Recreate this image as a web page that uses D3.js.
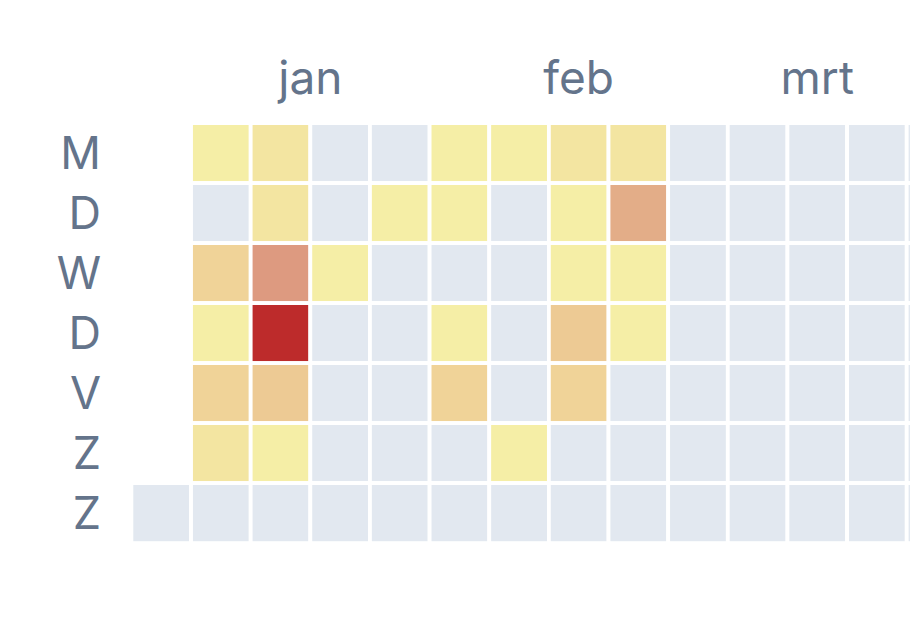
<!DOCTYPE html>
<html>
<head>
<meta charset="utf-8">
<script src="https://cdn.jsdelivr.net/npm/d3@7"></script>
<style>
  html, body { margin: 0; padding: 0; background: #ffffff; overflow: hidden; }
  svg { display: block; }
  text { font-family: Inter, "Noto Sans", sans-serif; fill: #64748b; }
</style>
</head>
<body>
<svg id="chart" width="910" height="632"></svg>
<script>
// ---- data ----
const startDate = "2023-01-01";
const endDate = "2023-04-02";
// daily counts from Jan 1 2023 (Sunday) onward
const dailyCounts = [
  0,                      // Jan 1 (Sun)
  1, 0, 4, 1, 4, 2, 0,    // Jan 2 - Jan 8
  2, 2, 10, 23, 5, 1, 0,  // Jan 9 - Jan 15
  0, 0, 1, 0, 0, 0, 0,    // Jan 16 - Jan 22
  0, 1, 0, 0, 0, 0, 0,    // Jan 23 - Jan 29
  1, 1, 0, 1, 4, 0, 0,    // Jan 30 - Feb 5
  1, 0, 0, 0, 0, 1, 0,    // Feb 6 - Feb 12
  2, 1, 1, 5, 4, 0, 0,    // Feb 13 - Feb 19
  2, 8, 1, 1, 0, 0, 0,    // Feb 20 - Feb 26
  0, 0, 0, 0, 0, 0, 0,    // Feb 27 - Mar 5
  0, 0, 0, 0, 0, 0, 0,    // Mar 6 - Mar 12
  0, 0, 0, 0, 0, 0, 0,    // Mar 13 - Mar 19
  0, 0, 0, 0, 0, 0, 0,    // Mar 20 - Mar 26
  0, 0, 0, 0, 0, 0, 0     // Mar 27 - Apr 2
];
const dayLabels = ["M", "D", "W", "D", "V", "Z", "Z"];
const monthLabels = ["jan", "feb", "mrt"];
const colorStops = [1, 4, 10, 23];
const colorRange = ["#f5eea6", "#f0d398", "#dd9a80", "#bd2b2b"];

// ---- layout ----
const svg = d3.select("#chart");
const parse = d3.utcParse("%Y-%m-%d");
const t0 = parse(startDate);
const days = d3.utcDay.range(t0, d3.utcDay.offset(parse(endDate), 1));
const cells = days.map((d, i) => ({ date: d, value: dailyCounts[i] }));
const firstMonday = d3.utcMonday.floor(t0);
const weekIndex = d => d3.utcMonday.count(firstMonday, d);
const dayIndex = d => (d.getUTCDay() + 6) % 7;
const nWeeks = weekIndex(days[days.length - 1]) + 1;

const pitchX = 59.64, pitchY = 60;
const x0 = 131.4, y0 = 123.1;
const x = d3.scaleBand().domain(d3.range(nWeeks)).range([x0, x0 + nWeeks * pitchX]).padding(0);
const y = d3.scaleBand().domain(d3.range(7)).range([y0, y0 + 7 * pitchY]).padding(0);

const color = d3.scaleLinear().domain(colorStops).range(colorRange).interpolate(d3.interpolateRgb);
const emptyColor = "#e2e8f0";

svg.append("g").selectAll("rect")
  .data(cells)
  .join("rect")
  .attr("x", d => x(weekIndex(d.date)))
  .attr("y", d => y(dayIndex(d.date)))
  .attr("width", x.bandwidth())
  .attr("height", y.bandwidth())
  .attr("fill", d => d.value > 0 ? color(d.value) : emptyColor)
  .attr("stroke", "#ffffff")
  .attr("stroke-width", 3.8);

// day labels
const dayFont = 45;
svg.append("g").selectAll("text")
  .data(dayLabels)
  .join("text")
  .attr("x", 101)
  .attr("y", (d, i) => y(i) + y.bandwidth() / 2 + dayFont * 0.36)
  .attr("text-anchor", "end")
  .attr("font-size", dayFont)
  .text(d => d);

// month labels, centered over the weeks spanned by each month
const months = monthLabels.map((m, i) => {
  const start = d3.utcMonth.offset(d3.utcYear.floor(t0), i);
  const end = d3.utcDay.offset(d3.utcMonth.offset(start, 1), -1);
  const xs = x(weekIndex(start));
  const xe = x(weekIndex(end)) + x.bandwidth();
  return { label: m, cx: (xs + xe) / 2 };
});
svg.append("g").selectAll("text")
  .data(months)
  .join("text")
  .attr("x", d => d.cx)
  .attr("y", 94)
  .attr("text-anchor", "middle")
  .attr("font-size", 46)
  .text(d => d.label);
</script>
</body>
</html>
